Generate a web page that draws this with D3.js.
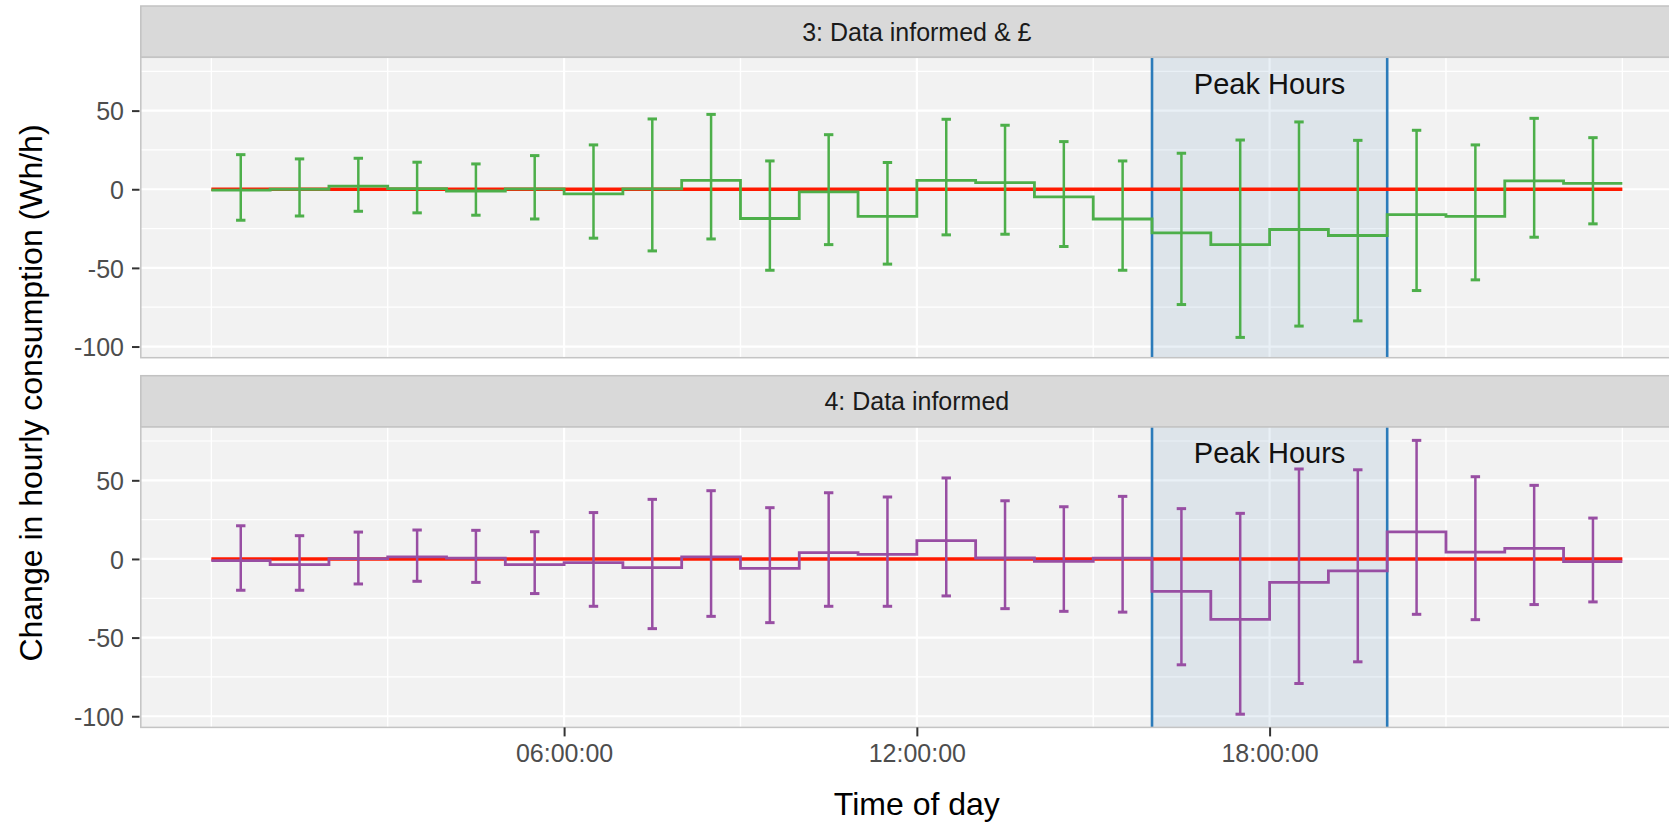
<!DOCTYPE html>
<html>
<head>
<meta charset="utf-8">
<script src="https://cdn.jsdelivr.net/npm/d3@7"></script>
<style>
    body { margin: 0; background: #ffffff; }
    svg { display: block; font-family: "Liberation Sans", Arial, Helvetica, sans-serif; }
</style>
</head>
<body>
<div id="chart"></div>
<script>
// Facet titles, one per trial group
const facets = ["3: Data informed & £", "4: Data informed"];

// Start hour of each hourly step
const hours = [0, 1, 2, 3, 4, 5, 6, 7, 8, 9, 10, 11, 12, 13, 14, 15, 16, 17, 18, 19, 20, 21, 22, 23];

// Group 3: data informed & price signal (Wh/h)
const meanPrice  = [-0.5, 0, 2, 0.4, -1.1, 0.2, -3, 0.2, 5.7, -18.6, -1.7, -17.2, 5.7, 4.2, -4.9, -18.9, -27.7, -35.2, -25.6, -29.4, -16.1, -17.2, 5.3, 3.8];
const lowerPrice = [-19.7, -17, -14, -15, -16.5, -18.9, -31.1, -39.2, -31.6, -51.5, -35.2, -47.6, -29, -28.6, -36.4, -51.5, -73.3, -94.2, -87, -83.7, -64.4, -57.6, -30.5, -22];
const upperPrice = [22, 19.3, 19.7, 17.2, 16.1, 21.4, 28.2, 44.7, 47.6, 18, 34.7, 17, 44.5, 40.7, 30.3, 18, 22.9, 31.3, 42.8, 31.1, 37.5, 28.2, 45.1, 32.8];

// Group 4: data informed only (Wh/h)
const meanInformed  = [-1.1, -3.6, 0.2, 1.3, 0.5, -3.6, -2.3, -5.5, 1.3, -6, 4, 2.9, 11.6, 0.6, -1.5, 0.5, -20.6, -38.4, -14.9, -7.6, 17.2, 4.4, 6.7, -1.7];
const lowerInformed = [-19.9, -19.9, -15.9, -14.2, -14.9, -22, -30.1, -44.3, -36.5, -40.5, -30.1, -30.1, -23.5, -31.6, -33.3, -33.8, -67.3, -98.7, -79.2, -65.4, -35.2, -38.6, -29, -27.3];
const upperInformed = [21.1, 14.8, 17.1, 18.4, 18.2, 17.3, 29.5, 37.9, 43.4, 32.6, 42.1, 39.4, 51.5, 37, 33.2, 39.8, 32, 29, 57.2, 56.7, 75.4, 52.3, 46.8, 26];

// Axis breaks
const xTicks = [6, 12, 18];
const xTickLabels = ["06:00:00", "12:00:00", "18:00:00"];
const xMinorTicks = [0, 3, 9, 15, 21, 24];
const yTicks = [-100, -50, 0, 50];
const yTickLabels = ["-100", "-50", "0", "50"];
const yMinorTicks = [-75, -25, 25, 75];

// Peak tariff window (hours)
const peakHours = [16, 20];

const series = [
    { title: facets[0], mean: meanPrice, lower: lowerPrice, upper: upperPrice, color: "#4DAF4A" },
    { title: facets[1], mean: meanInformed, lower: lowerInformed, upper: upperInformed, color: "#984EA3" }
];

const width = 1669, height = 827;
const panelLeft = 140.8, panelWidth = 1552.1;
const stripHeight = 51.3, panelHeight = 300.4, panelGap = 18, topOffset = 6;

const x = d3.scaleLinear().domain([-1.2, 25.2]).range([panelLeft, panelLeft + panelWidth]);
const y = d3.scaleLinear().domain([-107.1, 83.9]).range([panelHeight, 0]);

const svg = d3.select("#chart").append("svg")
    .attr("width", width)
    .attr("height", height);

const stepLine = d3.line()
    .x(d => x(d[0]))
    .y(d => y(d[1]))
    .curve(d3.curveStepAfter);

series.forEach((s, i) => {
    let panelTop = topOffset + stripHeight + i * (stripHeight + panelHeight + panelGap);
    let g = svg.append("g").attr("transform", `translate(0, ${panelTop})`);

    // strip
    g.append("rect")
        .attr("x", panelLeft).attr("y", -stripHeight)
        .attr("width", panelWidth).attr("height", stripHeight)
        .attr("fill", "#D9D9D9").attr("stroke", "#C2C2C2").attr("stroke-width", 1.5);
    g.append("text")
        .attr("x", x(12)).attr("y", -stripHeight / 2 + 9)
        .attr("text-anchor", "middle")
        .attr("font-size", 25)
        .attr("fill", "#1A1A1A")
        .text(s.title);

    // panel background and grid
    g.append("rect")
        .attr("x", panelLeft).attr("y", 0)
        .attr("width", panelWidth).attr("height", panelHeight)
        .attr("fill", "#F2F2F2");

    g.selectAll("line.ygrid-minor").data(yMinorTicks).join("line")
        .attr("x1", panelLeft).attr("x2", panelLeft + panelWidth)
        .attr("y1", d => y(d)).attr("y2", d => y(d))
        .attr("stroke", "#ffffff").attr("stroke-width", 1.2);
    g.selectAll("line.ygrid").data(yTicks).join("line")
        .attr("x1", panelLeft).attr("x2", panelLeft + panelWidth)
        .attr("y1", d => y(d)).attr("y2", d => y(d))
        .attr("stroke", "#ffffff").attr("stroke-width", 2.2);
    g.selectAll("line.xgrid-minor").data(xMinorTicks).join("line")
        .attr("x1", d => x(d)).attr("x2", d => x(d))
        .attr("y1", 0).attr("y2", panelHeight)
        .attr("stroke", "#ffffff").attr("stroke-width", 1.4);
    g.selectAll("line.xgrid").data(xTicks).join("line")
        .attr("x1", d => x(d)).attr("x2", d => x(d))
        .attr("y1", 0).attr("y2", panelHeight)
        .attr("stroke", "#ffffff").attr("stroke-width", 2.2);

    // peak hours shading
    g.append("rect")
        .attr("x", x(peakHours[0])).attr("y", 0)
        .attr("width", x(peakHours[1]) - x(peakHours[0])).attr("height", panelHeight)
        .attr("fill", "rgba(70, 130, 180, 0.12)");
    g.selectAll("line.peak").data(peakHours).join("line")
        .attr("x1", d => x(d)).attr("x2", d => x(d))
        .attr("y1", 0).attr("y2", panelHeight)
        .attr("stroke", "#2B7BBA").attr("stroke-width", 2.6);
    g.append("text")
        .attr("x", x((peakHours[0] + peakHours[1]) / 2)).attr("y", y(60.8))
        .attr("text-anchor", "middle")
        .attr("font-size", 29)
        .attr("fill", "#111111")
        .text("Peak Hours");

    // zero reference
    g.append("line")
        .attr("x1", x(hours[0])).attr("x2", x(hours[hours.length - 1] + 1))
        .attr("y1", y(0)).attr("y2", y(0))
        .attr("stroke", "#FF1A00").attr("stroke-width", 3.6);

    // mean change as hourly steps
    let steps = hours.map((h, j) => [h, s.mean[j]]);
    steps.push([hours[hours.length - 1] + 1, s.mean[s.mean.length - 1]]);
    g.append("path")
        .attr("d", stepLine(steps))
        .attr("fill", "none")
        .attr("stroke", s.color).attr("stroke-width", 2.8);

    // confidence intervals at mid-hour
    let capHalf = 0.08;
    let bars = g.append("g")
        .attr("stroke", s.color).attr("stroke-width", 2.5);
    hours.forEach((h, j) => {
        let mid = h + 0.5;
        bars.append("line")
            .attr("x1", x(mid)).attr("x2", x(mid))
            .attr("y1", y(s.lower[j])).attr("y2", y(s.upper[j]));
        [s.lower[j], s.upper[j]].forEach(v => {
            bars.append("line")
                .attr("x1", x(mid - capHalf)).attr("x2", x(mid + capHalf))
                .attr("y1", y(v)).attr("y2", y(v))
                .attr("stroke-width", 3);
        });
    });

    // panel border
    g.append("rect")
        .attr("x", panelLeft).attr("y", 0)
        .attr("width", panelWidth).attr("height", panelHeight)
        .attr("fill", "none").attr("stroke", "#C4C4C4").attr("stroke-width", 1.5);

    // y axis
    let yAxis = g.append("g")
        .attr("transform", `translate(${panelLeft - 1.3}, 0)`)
        .call(d3.axisLeft(y).tickValues(yTicks).tickSize(7.5).tickPadding(8)
            .tickFormat((d, k) => yTickLabels[k]));
    yAxis.select(".domain").remove();
    yAxis.selectAll("line").attr("stroke", "#333333").attr("stroke-width", 2);
    yAxis.selectAll("text")
        .attr("font-size", 25).attr("font-family", null)
        .attr("fill", "#4D4D4D").attr("dy", "0.37em");

    // x axis only under the last panel
    if (i === series.length - 1) {
        let xAxis = g.append("g")
            .attr("transform", `translate(0, ${panelHeight})`)
            .call(d3.axisBottom(x).tickValues(xTicks).tickSize(9).tickPadding(8)
                .tickFormat((d, k) => xTickLabels[k]));
        xAxis.select(".domain").remove();
        xAxis.selectAll("line").attr("stroke", "#333333").attr("stroke-width", 2);
        xAxis.selectAll("text")
            .attr("font-size", 25).attr("font-family", null)
            .attr("fill", "#4D4D4D");
    }
});

// axis titles
svg.append("text")
    .attr("x", x(12)).attr("y", 815)
    .attr("text-anchor", "middle")
    .attr("font-size", 32)
    .text("Time of day");

svg.append("text")
    .attr("transform", "translate(42, 393) rotate(-90)")
    .attr("text-anchor", "middle")
    .attr("font-size", 32)
    .text("Change in hourly consumption (Wh/h)");
</script>
</body>
</html>
